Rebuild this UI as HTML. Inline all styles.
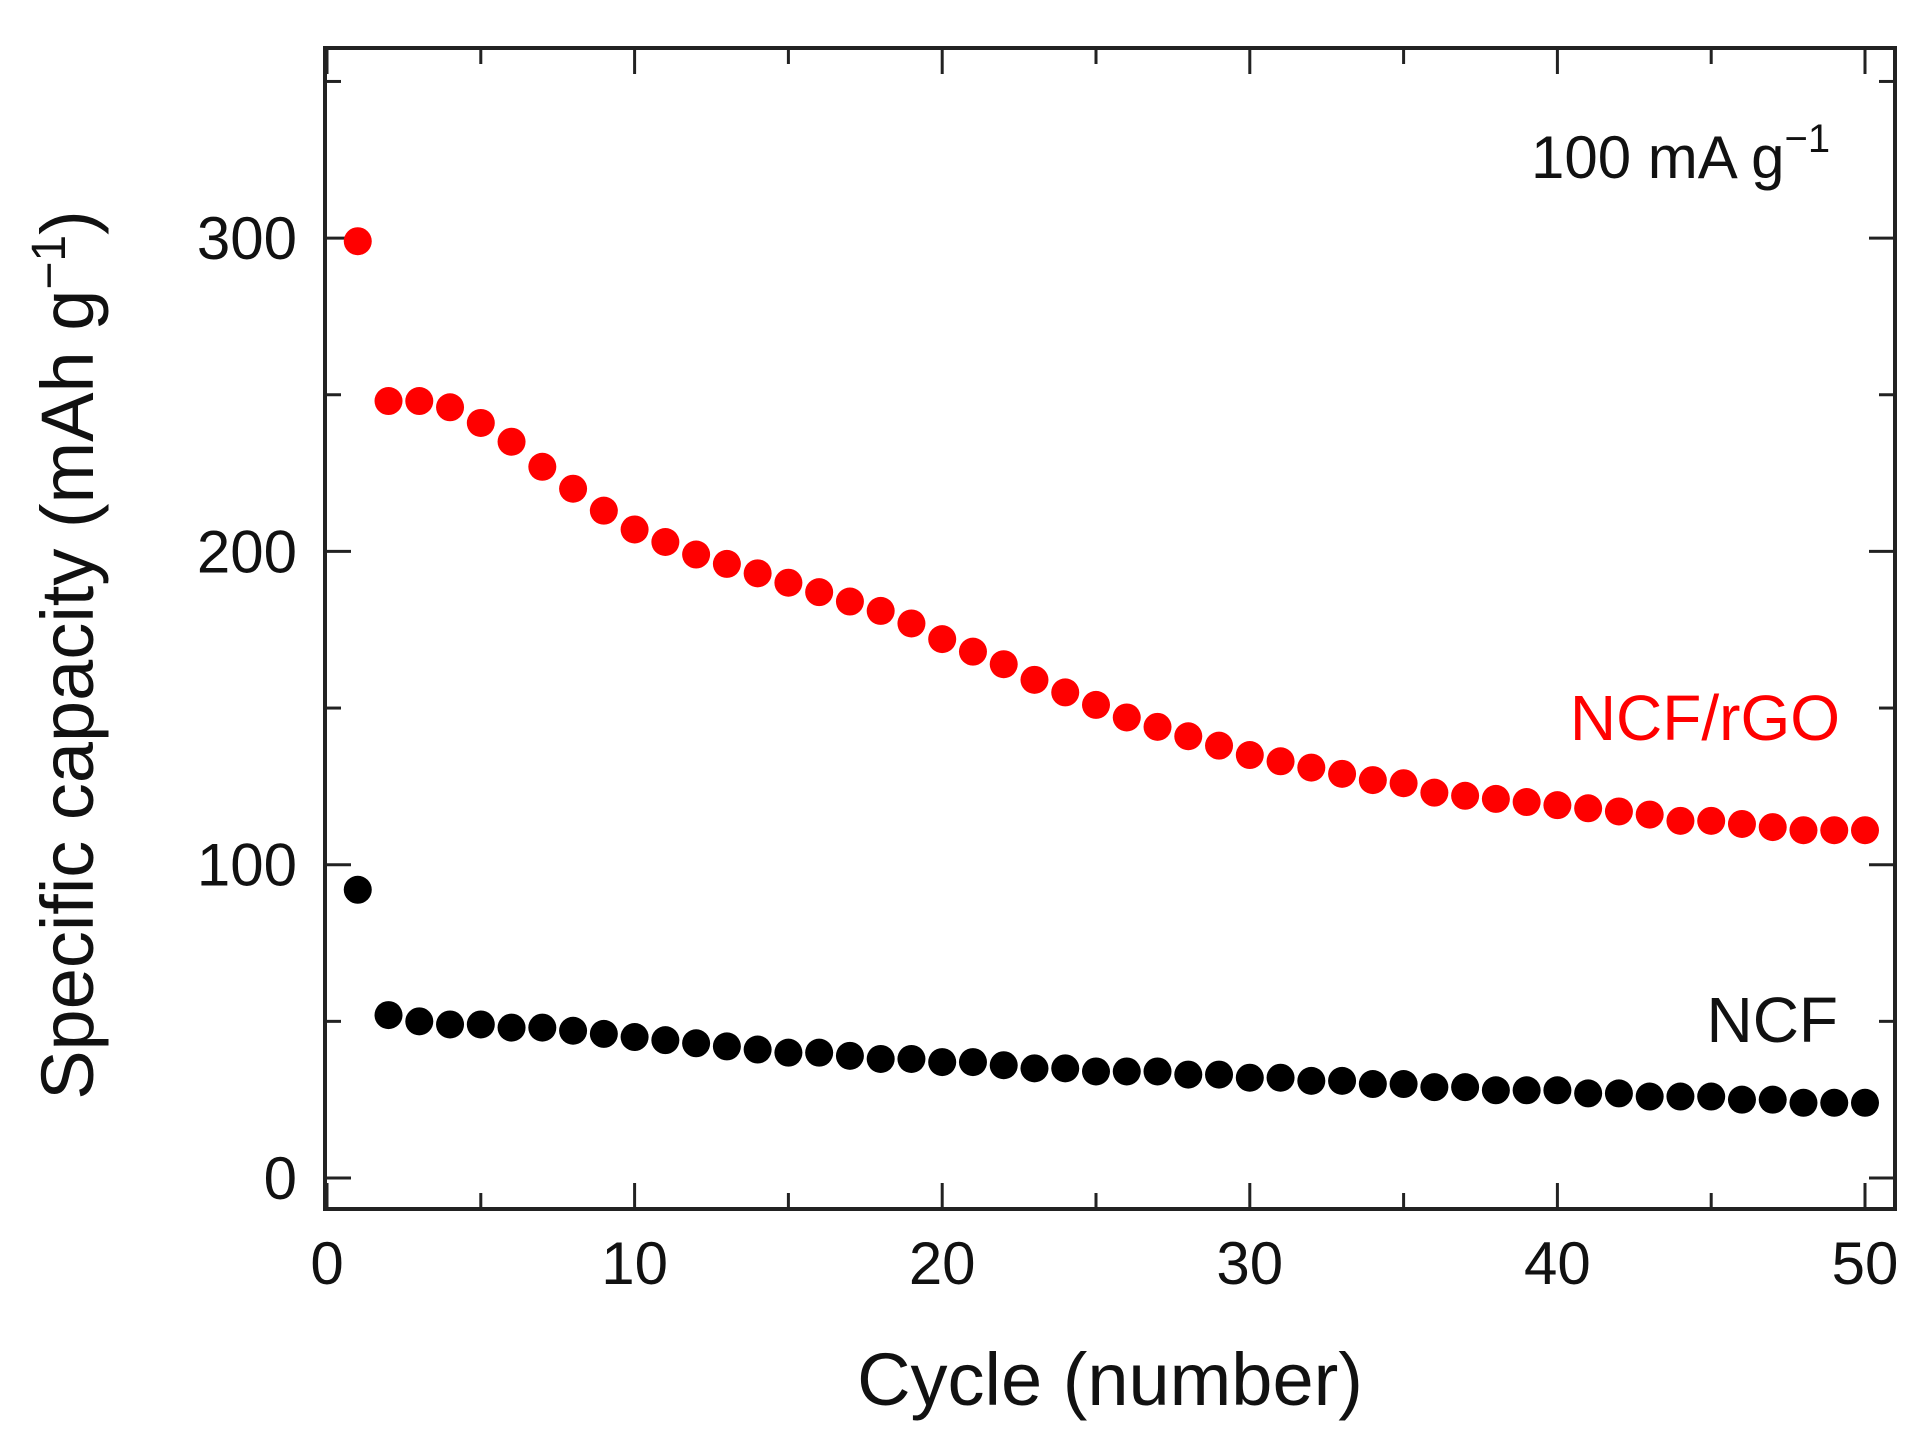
<!DOCTYPE html>
<html><head><meta charset="utf-8"><style>
html,body{margin:0;padding:0;background:#fff;}
svg{display:block;font-family:"Liberation Sans",Arial,sans-serif;}
</style></head><body>
<svg id="chart" width="1927" height="1441" viewBox="0 0 1927 1441" xmlns="http://www.w3.org/2000/svg">
<g id="axes"></g>
<g id="marks"></g>
<text x="1531" y="178" font-size="60" fill="#111">100 mA g<tspan dy="-26" font-size="40">−1</tspan></text>
<text x="1840" y="740" font-size="64" fill="#ff0000" text-anchor="end">NCF/rGO</text>
<text x="1838" y="1042" font-size="64" fill="#111" text-anchor="end">NCF</text>
<text x="1110" y="1405" font-size="74" fill="#111" text-anchor="middle">Cycle (number)</text>
<text transform="translate(93,655) rotate(-90)" font-size="74" fill="#111" text-anchor="middle">Specific capacity (mAh g<tspan dy="-28" font-size="48">−1</tspan><tspan dy="28">)</tspan></text>
</svg>
<script>
const cycles = [1,2,3,4,5,6,7,8,9,10,11,12,13,14,15,16,17,18,19,20,21,22,23,24,25,26,27,28,29,30,31,32,33,34,35,36,37,38,39,40,41,42,43,44,45,46,47,48,49,50];
const ncfRgo = [299,248,248,246,241,235,227,220,213,207,203,199,196,193,190,187,184,181,177,172,168,164,159,155,151,147,144,141,138,135,133,131,129,127,126,123,122,121,120,119,118,117,116,114,114,113,112,111,111,111];
const ncf = [92,52,50,49,49,48,48,47,46,45,44,43,42,41,40,40,39,38,38,37,37,36,35,35,34,34,34,33,33,32,32,31,31,30,30,29,29,28,28,28,27,27,26,26,26,25,25,24,24,24];
const xTickLabels = [0,10,20,30,40,50];
const yTickLabels = [0,100,200,300];

const NS='http://www.w3.org/2000/svg';
const X0=327, XS=30.76, Y0=1178, YS=3.133;
const L=325, R=1895, T=48, B=1209;
function xs(v){return X0+v*XS;}
function ys(v){return Y0-v*YS;}
function mk(tag,attrs,parent){const e=document.createElementNS(NS,tag);for(const k in attrs)e.setAttribute(k,attrs[k]);parent.appendChild(e);return e;}
const axes=document.getElementById('axes');
const frame=mk('rect',{x:L,y:T,width:R-L,height:B-T,fill:'none',stroke:'#222','stroke-width':4},axes);


for(let v=0;v<=50;v+=5){
  const x=xs(v), len=(v%10===0)?26:16;
  const t1=mk('line',{x1:x,y1:B,x2:x,y2:B-len,stroke:'#222','stroke-width':3},axes);
  
  
  const t2=mk('line',{x1:x,y1:T,x2:x,y2:T+len,stroke:'#222','stroke-width':3},axes);
  
  
}
for(let v=0;v<=350;v+=50){
  const y=ys(v), len=(v%100===0)?26:16;
  const t1=mk('line',{x1:L,y1:y,x2:L+len,y2:y,stroke:'#222','stroke-width':3},axes);
  
  
  const t2=mk('line',{x1:R,y1:y,x2:R-len,y2:y,stroke:'#222','stroke-width':3},axes);
  
  
}
xTickLabels.forEach(v=>{
  const t=mk('text',{x:xs(v),y:1284,'font-size':60,fill:'#111','text-anchor':'middle'},axes);
  t.textContent=v;
  
  
});
yTickLabels.forEach(v=>{
  const t=mk('text',{x:297,y:ys(v)+21,'font-size':60,fill:'#111','text-anchor':'end'},axes);
  t.textContent=v;
  
  
});
const marks=document.getElementById('marks');
cycles.forEach((c,i)=>{
  const a=mk('circle',{cx:xs(c),cy:ys(ncfRgo[i]),r:14,fill:'#ff0000'},marks);
  
  
  const b=mk('circle',{cx:xs(c),cy:ys(ncf[i]),r:14,fill:'#000'},marks);
  
  
});
</script>
</body></html>
